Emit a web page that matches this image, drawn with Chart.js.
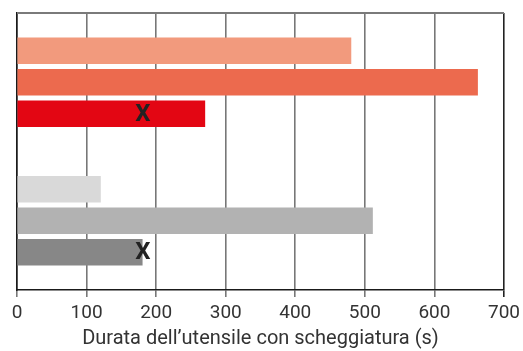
<!DOCTYPE html>
<html lang="it">
  <head>
    <meta charset="UTF-8" />
    <title>Durata utensile</title>
    <script src="https://cdn.jsdelivr.net/npm/chart.js@4"></script>
    <style>
      html, body { margin: 0; padding: 0; background: #fff; }
      #wrap { width: 523px; height: 351px; position: relative; }
    </style>
  </head>
  <body>
    <div id="wrap"><canvas id="chart"></canvas></div>
    <script>
      // values (seconds)
      var durata = [480, 662, 270, 120, 511, 180];
      // row position of each bar (two groups of three, gap in between)
      var righe = [1.2, 2.2, 3.2, 5.6, 6.6, 7.6];
      // where the "X" mark sits on a bar (null = no mark)
      var segni = [null, null, 181, null, null, 181];
      var colori = ["#f29a7d", "#ec6a4e", "#e30613", "#d9d9d9", "#b2b2b2", "#878787"];
      var xTicks = [0, 100, 200, 300, 400, 500, 600, 700];
      var titoloX = "Durata dell\u2019utensile con scheggiatura (s)";

      var font = "Roboto, 'DejaVu Sans', sans-serif";

      var punti = durata.map(function (v, i) { return { x: v, y: righe[i] }; });

      var boxPlugin = {
        id: "box",
        afterDraw: function (chart) {
          var ctx = chart.ctx, a = chart.chartArea;
          ctx.save();
          ctx.strokeStyle = "#7a7a7a";
          ctx.lineWidth = 2;
          ctx.beginPath();
          ctx.moveTo(a.left, a.top);
          ctx.lineTo(a.right, a.top);
          ctx.stroke();
          // X marks
          var xs = chart.scales.x, ys = chart.scales.y;
          ctx.fillStyle = "#222";
          ctx.font = "bold 24px " + font;
          ctx.textAlign = "center";
          ctx.textBaseline = "middle";
          segni.forEach(function (s, i) {
            if (s === null) return;
            ctx.fillText("X", xs.getPixelForValue(s), ys.getPixelForValue(righe[i]) + 1);
          });
          ctx.restore();
        }
      };

      new Chart("chart", {
        type: "bar",
        data: {
          datasets: [{
            data: punti,
            backgroundColor: colori,
            borderWidth: 0,
            barThickness: 26
          }]
        },
        options: {
          indexAxis: "y",
          responsive: true,
          maintainAspectRatio: false,
          animation: false,
          layout: { padding: { top: 13, right: 19, left: 0, bottom: 0 } },
          plugins: { legend: { display: false }, tooltip: { enabled: false } },
          scales: {
            x: {
              type: "linear",
              min: 0,
              max: 700,
              afterBuildTicks: function (s) { s.ticks = xTicks.map(function (v) { return { value: v }; }); },
              grid: {
                color: function (c) { return c.tick && c.tick.value === 700 ? "#222" : "#777"; },
                lineWidth: 1.6,
                tickLength: 7
              },
              border: { color: "#1a1a1a", width: 1.6 },
              ticks: { color: "#333", font: { family: font, size: 19 }, padding: 5, maxRotation: 0 },
              title: {
                display: true,
                text: titoloX,
                color: "#333",
                font: { family: font, size: 20 },
                padding: { top: 4, bottom: 0 }
              },
              afterFit: function (s) {
                s.height = 61;
                s.paddingLeft = 0;
                s.paddingRight = 0;
              }
            },
            y: {
              type: "linear",
              reverse: true,
              offset: false,
              min: 0,
              max: 8.8,
              grid: { display: false },
              ticks: { display: false },
              border: { color: "#1a1a1a", width: 1.6 },
              afterFit: function (s) { s.width = 17; }
            }
          }
        },
        plugins: [boxPlugin]
      });
    </script>
  </body>
</html>
